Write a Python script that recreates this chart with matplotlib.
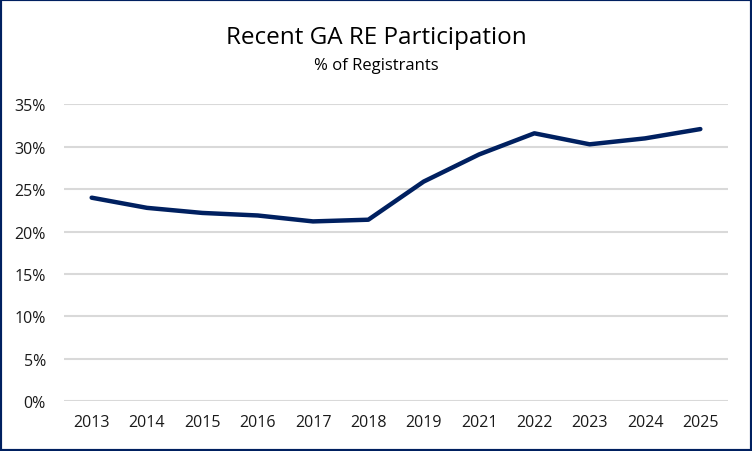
import numpy as np
import matplotlib.pyplot as plt
from matplotlib.patches import Rectangle
from matplotlib.ticker import PercentFormatter

plt.rcParams['font.family'] = ['Open Sans', 'DejaVu Sans']

# data
years = ['2013', '2014', '2015', '2016', '2017', '2018',
         '2019', '2021', '2022', '2023', '2024', '2025']
participation = [0.240, 0.228, 0.222, 0.219, 0.212, 0.214,
                 0.259, 0.291, 0.316, 0.303, 0.310, 0.321]
y_ticks = [0, 0.05, 0.10, 0.15, 0.20, 0.25, 0.30, 0.35]

navy = '#002060'

fig = plt.figure(figsize=(7.52, 4.52), dpi=100)
ax = fig.add_axes([0.0851, 0.1106, 0.8830, 0.6560])

x = np.arange(len(years))
ax.plot(x, participation, color=navy, linewidth=3.2, solid_capstyle='round',
        solid_joinstyle='round', zorder=3)

ax.set_xlim(-0.5, len(years) - 0.5)
ax.set_ylim(0, 0.35)
ax.set_xticks(x)
ax.set_xticklabels(years)
ax.set_yticks(y_ticks)
ax.yaxis.set_major_formatter(PercentFormatter(1.0, decimals=0))

# Graph Settings
ax.grid(axis='y', color='#d9d9d9', linewidth=1.5)
ax.set_axisbelow(True)
for s in ax.spines.values():
    s.set_visible(False)
ax.tick_params(axis='both', length=0, labelsize=11.5, colors='#1a1a1a')
ax.tick_params(axis='x', pad=9)
ax.tick_params(axis='y', pad=13)

fig.text(0.5, 0.916, 'Recent GA RE Participation', ha='center', va='center',
         fontsize=17.5, color='black')
fig.text(0.5, 0.853, '% of Registrants', ha='center', va='center',
         fontsize=12, color='black')

fig.patches.append(Rectangle((0, 0), 1, 1, transform=fig.transFigure,
                             fill=False, edgecolor=navy, linewidth=3))

plt.savefig('out.png', dpi=100)
